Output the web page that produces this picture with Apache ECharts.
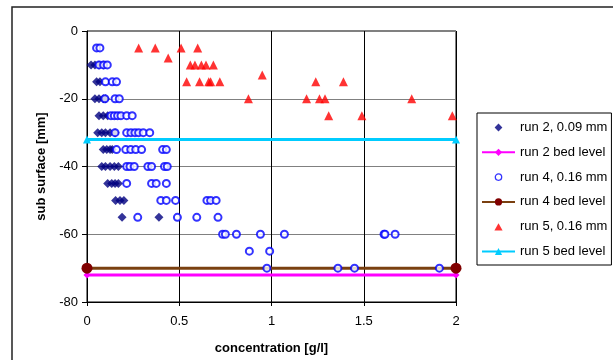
<!DOCTYPE html>
<html>
<head>
<meta charset="utf-8">
<script src="https://cdn.jsdelivr.net/npm/echarts@6/dist/echarts.min.js"></script>
<style>
  html, body { margin: 0; padding: 0; background: #fff; }
  #chart { width: 613px; height: 360px; }
</style>
</head>
<body>
<div id="chart"></div>
<script>
// Sediment concentration profiles: [concentration g/l, depth mm]
const run2 = [
  [0.022, -10], [0.043, -10], [0.065, -10], [0.088, -10],
  [0.052, -15], [0.07, -15],
  [0.043, -20], [0.065, -20], [0.088, -20], [0.10, -20],
  [0.065, -25], [0.088, -25], [0.112, -25],
  [0.058, -30], [0.08, -30], [0.10, -30], [0.125, -30], [0.152, -30],
  [0.088, -35], [0.107, -35], [0.125, -35], [0.137, -35],
  [0.08, -40], [0.10, -40], [0.125, -40], [0.148, -40], [0.17, -40],
  [0.112, -45], [0.134, -45], [0.152, -45], [0.17, -45],
  [0.155, -50], [0.179, -50], [0.20, -50],
  [0.19, -55], [0.39, -55]
];

const run4 = [
  [0.052, -5], [0.07, -5],
  [0.065, -10], [0.09, -10], [0.11, -10],
  [0.10, -15], [0.137, -15], [0.16, -15],
  [0.097, -20], [0.152, -20], [0.175, -20],
  [0.13, -25], [0.148, -25], [0.166, -25], [0.184, -25], [0.215, -25], [0.245, -25],
  [0.152, -30], [0.215, -30], [0.238, -30], [0.26, -30], [0.28, -30], [0.305, -30], [0.34, -30],
  [0.16, -35], [0.21, -35], [0.237, -35], [0.264, -35], [0.296, -35], [0.41, -35], [0.43, -35],
  [0.215, -40], [0.233, -40], [0.256, -40], [0.33, -40], [0.35, -40], [0.42, -40], [0.435, -40],
  [0.215, -45], [0.35, -45], [0.375, -45], [0.43, -45],
  [0.40, -50], [0.43, -50], [0.48, -50], [0.65, -50], [0.67, -50], [0.70, -50],
  [0.275, -55], [0.49, -55], [0.595, -55], [0.71, -55],
  [0.735, -60], [0.75, -60], [0.81, -60], [0.94, -60], [1.07, -60], [1.61, -60], [1.615, -60], [1.67, -60],
  [0.88, -65], [0.99, -65],
  [0.975, -70], [1.36, -70], [1.45, -70], [1.91, -70]
];

const run5 = [
  [0.28, -5], [0.37, -5], [0.51, -5], [0.60, -5],
  [0.44, -8],
  [0.56, -10], [0.585, -10], [0.62, -10], [0.645, -10], [0.685, -10],
  [0.95, -13],
  [0.54, -15], [0.61, -15], [0.66, -15], [0.67, -15], [0.72, -15], [1.24, -15], [1.39, -15],
  [0.875, -20], [1.19, -20], [1.26, -20], [1.29, -20], [1.76, -20],
  [1.31, -25], [1.49, -25], [1.98, -25]
];

// Bed levels, drawn across the concentration range
const bedExtent = [0, 2];
const run2Bed = -72;
const run4Bed = -70;
const run5Bed = -32;

const xTicks = ['0', '0.5', '1', '1.5', '2'];

const bedLine = (level) => bedExtent.map(c => [c, level]);

// Legend glyphs for the scatter series: a 9x9 box (corner moves) holding a smaller shape,
// so the icon keeps its proportions inside the legend slot.
const ICON_BOX = 'M0,0 M9,9 ';
const iconDiamond = 'path://' + ICON_BOX + 'M4.5,0.6 L8.4,4.5 L4.5,8.4 L0.6,4.5 Z';
const iconTriangle = 'path://' + ICON_BOX + 'M4.5,1 L8.6,8.2 L0.4,8.2 Z';
const iconRing = 'path://' + ICON_BOX + 'M1.3,4.5 A3.2,3.2 0 1 1 7.7,4.5 A3.2,3.2 0 1 1 1.3,4.5 Z';

const font = 'Liberation Sans, Arial, sans-serif';
const chart = echarts.init(document.getElementById('chart'), null, { renderer: 'canvas' });

chart.setOption({
  backgroundColor: '#ffffff',
  animation: false,
  textStyle: { fontFamily: font },
  graphic: [{
    type: 'rect',
    shape: { x: 12, y: 7, width: 700, height: 400 },
    style: { fill: 'none', stroke: '#222', lineWidth: 1.5 },
    silent: true,
    z: -1
  }],
  grid: {
    left: 87, right: 157, top: 31, bottom: 52,
    show: true, borderColor: '#000', borderWidth: 1, backgroundColor: '#fff'
  },
  legend: {
    orient: 'vertical',
    left: 477, top: 113,
    padding: [8, 4, 7, 4],
    itemWidth: 33, itemHeight: 9, itemGap: 11.8,
    borderColor: '#000', borderWidth: 1,
    textStyle: { fontFamily: font, fontSize: 13, color: '#000' },
    data: [
      { name: 'run 2, 0.09 mm', icon: iconDiamond },
      { name: 'run 2 bed level' },
      { name: 'run 4, 0.16 mm', icon: iconRing,
        itemStyle: { color: '#fff', borderColor: '#0000FF', borderWidth: 1.3 } },
      { name: 'run 4 bed level' },
      { name: 'run 5, 0.16 mm', icon: iconTriangle },
      { name: 'run 5 bed level' }
    ]
  },
  xAxis: {
    type: 'value', min: 0, max: 2, interval: 0.5,
    name: 'concentration [g/l]', nameLocation: 'middle', nameGap: 40,
    nameTextStyle: { fontFamily: font, fontSize: 13, fontWeight: 'bold', color: '#000' },
    axisLine: { show: true, onZero: false, lineStyle: { color: '#000', width: 1 } },
    axisTick: { show: true, inside: false, length: 4, lineStyle: { color: '#000' } },
    axisLabel: {
      margin: 13, fontSize: 13, color: '#000', fontFamily: font,
      formatter: (v) => xTicks[Math.round(v / 0.5)]
    },
    splitLine: { show: true, lineStyle: { color: '#000', width: 1 } }
  },
  yAxis: {
    type: 'value', min: -80, max: 0, interval: 20,
    name: 'sub surface [mm]', nameLocation: 'middle', nameGap: 35, nameRotate: 90,
    nameTextStyle: { fontFamily: font, fontSize: 13, fontWeight: 'bold', color: '#000' },
    axisLine: { show: true, onZero: false, lineStyle: { color: '#000', width: 1 } },
    axisTick: { show: true, inside: false, length: 5, lineStyle: { color: '#000' } },
    axisLabel: { margin: 9, fontSize: 13, color: '#000', fontFamily: font },
    splitLine: { show: true, lineStyle: { color: '#808080', width: 1 } }
  },
  series: [
    {
      name: 'run 2 bed level', type: 'line', data: bedLine(run2Bed),
      symbol: 'diamond', symbolSize: 7, showSymbol: true,
      itemStyle: { color: '#FF00FF' },
      lineStyle: { color: '#FF00FF', width: 3 }, z: 2
    },
    {
      name: 'run 4 bed level', type: 'line', data: bedLine(run4Bed),
      symbol: 'circle', symbolSize: 11, showSymbol: true,
      itemStyle: { color: '#800000' },
      lineStyle: { color: '#7A4010', width: 3 }, z: 2
    },
    {
      name: 'run 5 bed level', type: 'line', data: bedLine(run5Bed),
      symbol: 'triangle', symbolSize: 8, showSymbol: true,
      itemStyle: { color: '#00CCFF' },
      lineStyle: { color: '#00CCFF', width: 3 }, z: 2
    },
    {
      name: 'run 2, 0.09 mm', type: 'scatter', data: run2,
      symbol: 'diamond', symbolSize: 9,
      itemStyle: { color: '#000080' }, z: 3
    },
    {
      name: 'run 4, 0.16 mm', type: 'scatter', data: run4,
      symbol: 'emptyCircle', symbolSize: 7,
      itemStyle: { color: '#0000FF', borderColor: '#0000FF', borderWidth: 1.3 }, z: 3
    },
    {
      name: 'run 5, 0.16 mm', type: 'scatter', data: run5,
      symbol: 'triangle', symbolSize: 9,
      itemStyle: { color: '#FF0000' }, z: 3
    }
  ]
});
</script>
</body>
</html>
